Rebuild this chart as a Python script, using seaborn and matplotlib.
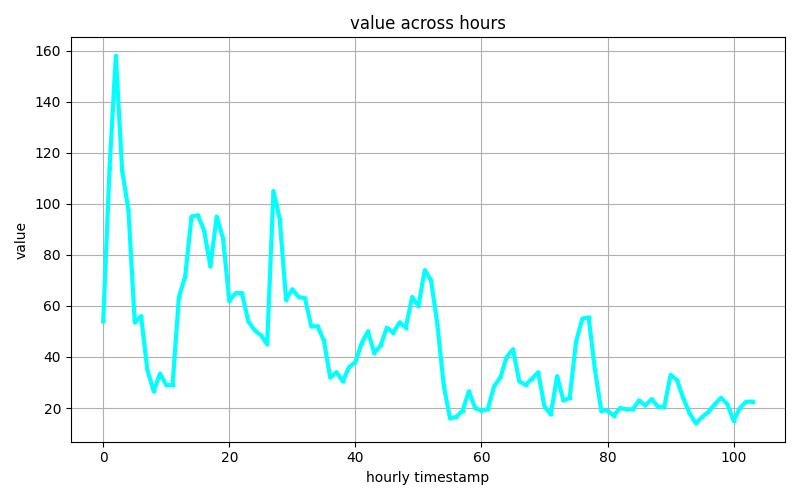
import numpy as np
import matplotlib
matplotlib.use("Agg")
import matplotlib.pyplot as plt
import pandas as pd
import seaborn as sns

hours = list(range(104))
values = [
    54, 114, 158, 113, 97.5, 53.5, 56, 35, 26.5, 33.5,
    29, 29, 63.5, 71.5, 95, 95.5, 89.5, 75.5, 95, 86.5,
    62, 65, 65, 54, 50.5, 48.5, 45, 105, 94, 62.5,
    66.5, 63.5, 63, 52, 52, 46.5, 32, 34, 30.5, 36,
    38, 45.5, 50, 41.5, 44.5, 51.5, 49.5, 53.5, 51.5, 63.5,
    60, 74, 70, 53, 29, 16, 16.5, 19, 26.5, 20,
    19, 19.5, 28.5, 32, 40, 43, 30.5, 29, 31.5, 34,
    20.5, 17.5, 32.5, 23, 24, 46, 55, 55.5, 35, 19,
    19, 17, 20, 19.5, 19.5, 23, 21, 23.5, 20.5, 20.5,
    33, 31, 24, 18, 14, 16.5, 18.5, 21.5, 24, 21.5,
    15, 20, 22.5, 22.5,
]

df = pd.DataFrame({"hour": hours, "value": values})

fig, ax = plt.subplots(figsize=(8, 5), dpi=100)
sns.lineplot(data=df, x="hour", y="value", color="cyan", linewidth=3,
             marker="o", markersize=3, markeredgewidth=0, ax=ax)
ax.set_title("value across hours")
ax.set_xlabel("hourly timestamp")
ax.set_ylabel("value")
ax.grid(True)

plt.tight_layout()
plt.savefig("out.png")
